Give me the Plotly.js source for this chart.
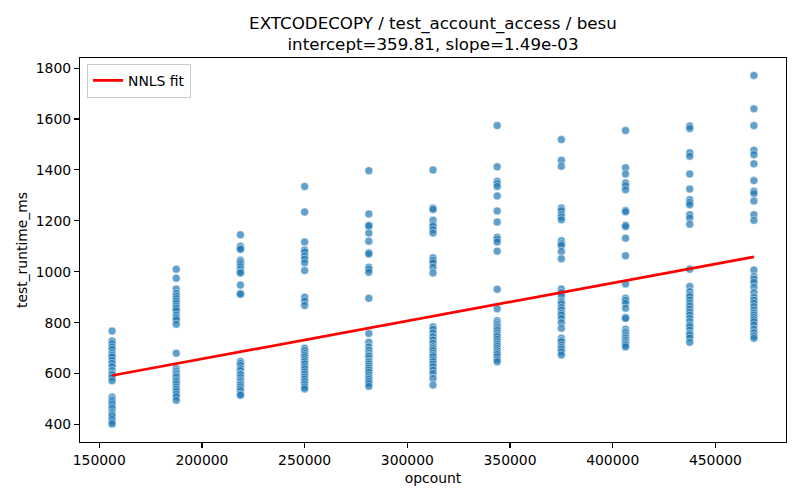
<!DOCTYPE html>
<html>
<head>
<meta charset="utf-8">
<script src="https://cdn.plot.ly/plotly-3.0.1.min.js"></script>
<style>html,body{margin:0;padding:0;background:#fff;}#chart{width:800px;height:500px;}</style>
</head>
<body>
<div id="chart"></div>
<script>
// opcount columns
const opcounts = [156250, 187500, 218750, 250000, 281250, 312500, 343750, 375000, 406250, 437500, 468750];

// test_runtime_ms values per opcount column
const col1 = [767, 728, 718, 705, 695, 680, 672, 665, 652, 640, 628, 612, 600, 595, 585, 572,
              508, 500, 495, 487, 480, 470, 462, 450, 443, 437, 430, 420, 410, 402];
const col2 = [1010, 975, 932, 915, 905, 895, 885, 876, 865, 857, 847, 830, 820, 811, 794, 680,
              620, 610, 603, 597, 590, 585, 575, 568, 559, 548, 539, 530, 519, 509, 495];
const col3 = [1145, 1100, 1092, 1088, 1045, 1038, 1030, 1020, 1010, 1000, 995, 948, 915, 912,
              648, 640, 632, 620, 612, 600, 595, 585, 575, 568, 560, 555, 548, 540, 532, 520, 515];
const col4 = [1335, 1235, 1117, 1085, 1078, 1062, 1050, 1035, 1005, 900, 885, 868,
              700, 690, 680, 672, 665, 655, 647, 638, 627, 618, 607, 598, 587, 578, 568, 558, 548, 540];
const col5 = [1397, 1227, 1183, 1180, 1152, 1120, 1075, 1070, 1018, 1010, 998, 896,
              758, 723, 705, 692, 680, 672, 668, 660, 650, 645, 638, 630, 622, 614, 605, 594, 585, 578, 570, 561, 550];
const col6 = [1400, 1250, 1245, 1202, 1185, 1178, 1165, 1152, 1055, 1045, 1035, 1018, 995,
              784, 774, 760, 745, 732, 719, 706, 698, 690, 680, 672, 666, 655, 647, 637, 627, 614, 601, 581, 555];
const col7 = [1574, 1412, 1355, 1346, 1335, 1298, 1239, 1195, 1136, 1128, 1117, 1081, 931, 855,
              808, 800, 794, 788, 782, 775, 769, 760, 752, 745, 735, 725, 716, 708, 699, 690, 682, 675, 666, 655, 647];
const col8 = [1519, 1438, 1414, 1250, 1240, 1224, 1215, 1204, 1122, 1110, 1103, 1080, 1051,
              932, 918, 905, 883, 874, 860, 850, 837, 830, 817, 800, 778, 739, 730, 725, 712, 703, 695, 685, 673];
const col9 = [1555, 1408, 1384, 1349, 1338, 1322, 1241, 1236, 1183, 1178, 1132, 1063, 952,
              896, 887, 876, 857, 820, 817, 774, 765, 760, 752, 745, 739, 732, 725, 718, 712, 705];
const col10 = [1572, 1563, 1467, 1454, 1384, 1325, 1283, 1272, 1263, 1224, 1211, 1187, 1010,
               942, 922, 909, 902, 889, 877, 866, 853, 841, 830, 817, 804, 791, 784, 771, 758, 752, 740, 723];
const col11 = [1771, 1640, 1574, 1477, 1460, 1424, 1358, 1316, 1307, 1278, 1224, 1202, 1007,
               981, 971, 958, 939, 918, 900, 888, 876, 863, 850, 838, 830, 821, 812, 804, 791, 775, 761, 748, 739];

const columns = [col1, col2, col3, col4, col5, col6, col7, col8, col9, col10, col11];

// NNLS fit parameters
const intercept = 359.81;
const slope = 1.49e-3;

const xs = [], ys = [];
columns.forEach((c, i) => c.forEach(v => { xs.push(opcounts[i]); ys.push(v); }));

const xMin = Math.min(...opcounts), xMax = Math.max(...opcounts);
const fitX = [xMin, xMax];
const fitY = fitX.map(x => intercept + slope * x);

const font = {family: 'DejaVu Sans, sans-serif', color: '#000'};

const traces = [
  {
    x: xs, y: ys, type: 'scatter', mode: 'markers', showlegend: false,
    marker: {size: 8, color: 'rgba(31,119,180,0.7)', line: {color: 'rgba(255,255,255,0.8)', width: 0.6}},
    hoverinfo: 'skip'
  },
  {
    x: fitX, y: fitY, type: 'scatter', mode: 'lines', name: 'NNLS fit',
    line: {color: 'red', width: 2.7}
  }
];

const axisCommon = {
  showline: true, mirror: true, linecolor: '#000', linewidth: 1.1,
  ticks: 'outside', ticklen: 5, tickwidth: 1.1, tickcolor: '#000',
  showgrid: false, zeroline: false,
  tickfont: Object.assign({size: 13.9}, font),
  automargin: false
};

const layout = {
  width: 800, height: 500,
  paper_bgcolor: '#fff', plot_bgcolor: '#fff',
  margin: {l: 80, r: 14, t: 58, b: 58},
  title: {
    text: 'EXTCODECOPY / test_account_access / besu<br>intercept=359.81, slope=1.49e-03',
    font: Object.assign({size: 16.7}, font),
    x: 0.5, xref: 'paper', xanchor: 'center',
    y: 0.943, yref: 'container', yanchor: 'top'
  },
  xaxis: Object.assign({}, axisCommon, {
    range: [140625, 484375],
    tickvals: [150000, 200000, 250000, 300000, 350000, 400000, 450000],
    ticktext: ['150000', '200000', '250000', '300000', '350000', '400000', '450000'],
    title: {text: 'opcount', font: Object.assign({size: 13.9}, font), standoff: 6}
  }),
  yaxis: Object.assign({}, axisCommon, {
    range: [331.45, 1839.5],
    tickvals: [400, 600, 800, 1000, 1200, 1400, 1600, 1800],
    ticktext: ['400', '600', '800', '1000', '1200', '1400', '1600', '1800'],
    title: {text: 'test_runtime_ms', font: Object.assign({size: 13.9}, font), standoff: 4}
  }),
  legend: {
    x: 0.01, y: 0.985, xanchor: 'left', yanchor: 'top',
    bgcolor: 'rgba(255,255,255,0.8)', bordercolor: '#cccccc', borderwidth: 1,
    font: Object.assign({size: 13.9}, font)
  },
  showlegend: true
};

Plotly.newPlot('chart', traces, layout, {displayModeBar: false, staticPlot: true});
</script>
</body>
</html>
